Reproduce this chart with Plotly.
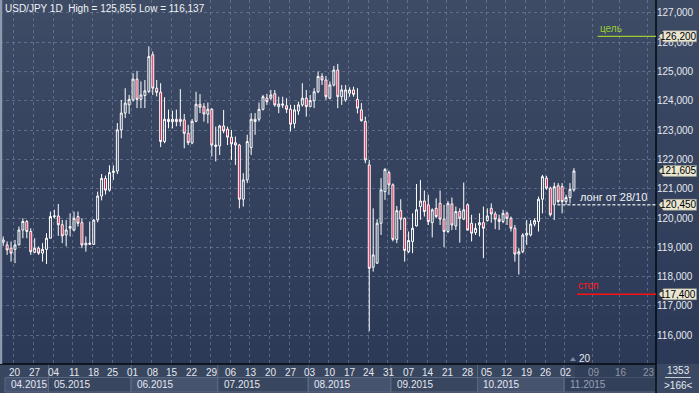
import numpy as np
import pandas as pd
import plotly.graph_objects as go

# ---------------- data ----------------
dates = pd.bdate_range("2015-04-15", "2015-11-04")

opens = [119.17, 119.08, 118.97, 118.93, 119.08, 119.59, 119.88, 119.54, 118.83, 118.97,
         118.80, 118.93, 119.31, 120.05, 120.07, 119.77, 119.42, 119.65, 119.59, 120.05,
         119.84, 119.08, 119.10, 119.10, 119.93, 120.75, 121.35, 120.95, 121.55, 121.60,
         123.01, 123.58, 123.86, 124.03, 124.74, 124.05, 124.18, 124.32, 125.57, 124.43,
         124.29, 122.61, 123.37, 123.29, 123.37, 123.37, 123.35, 122.89, 122.56, 123.30,
         123.88, 123.80, 123.54, 123.71, 122.44, 122.46, 123.14, 123.03, 122.76, 122.57,
         122.49, 120.64, 121.30, 122.40, 123.37, 123.37, 123.71, 124.09, 124.09, 124.24,
         123.80, 123.85, 123.83, 123.71, 123.23, 123.65, 123.86, 124.09, 123.80, 124.00,
         124.31, 124.83, 124.71, 124.09, 124.54, 125.05, 124.14, 124.03, 124.26, 124.37,
         124.05, 123.69, 123.29, 121.81, 118.32, 118.46, 119.82, 120.90, 121.55, 121.13,
         119.27, 120.25, 119.99, 118.85, 119.20, 119.73, 120.39, 120.58, 120.45, 119.84,
         120.33, 120.50, 119.96, 119.54, 120.48, 119.73, 120.22, 119.96, 120.45, 119.82,
         119.50, 119.76, 119.84, 119.91, 120.33, 120.14, 119.96, 119.88, 120.16, 119.99,
         119.65, 118.77, 118.85, 119.42, 119.42, 119.79, 119.88, 120.64, 121.36, 121.02,
         120.45, 121.10, 121.07, 120.56, 120.70, 120.96]
highs = [119.37, 119.20, 119.20, 119.25, 119.71, 119.99, 119.93, 119.65, 119.31, 119.03,
         119.14, 119.48, 120.22, 120.28, 120.48, 119.93, 119.93, 120.16, 120.22, 120.22,
         119.99, 119.37, 119.88, 119.96, 120.90, 121.50, 121.45, 121.80, 121.80, 123.24,
         124.03, 124.43, 124.20, 124.94, 125.02, 124.66, 124.71, 125.855, 125.68, 124.71,
         124.60, 124.12, 123.70, 123.66, 123.70, 124.40, 123.55, 123.18, 123.38, 124.31,
         124.23, 123.92, 123.94, 123.75, 123.12, 123.18, 123.69, 123.12, 123.01, 122.78,
         122.53, 121.53, 122.84, 123.58, 123.58, 123.94, 124.20, 124.24, 124.37, 124.37,
         124.14, 124.14, 124.09, 123.86, 123.86, 123.97, 124.60, 124.37, 124.20, 124.43,
         125.00, 124.94, 124.85, 124.66, 125.19, 125.26, 124.54, 124.54, 124.46, 124.48,
         124.43, 123.92, 123.46, 121.98, 120.33, 119.96, 121.36, 121.70, 121.62, 121.18,
         120.41, 120.64, 120.02, 119.54, 120.16, 121.16, 121.30, 120.94, 120.79, 120.33,
         120.67, 120.94, 120.45, 120.58, 120.70, 120.39, 120.33, 121.21, 120.50, 120.11,
         119.82, 120.16, 120.39, 120.33, 120.50, 120.22, 120.11, 120.28, 120.22, 120.05,
         119.76, 118.97, 119.48, 119.93, 119.93, 119.99, 120.73, 121.47, 121.44, 121.07,
         121.21, 121.19, 121.19, 120.79, 121.19, 121.70]
lows = [119.05, 118.74, 118.51, 118.46, 119.08, 119.31, 119.31, 118.74, 118.80, 118.74,
        118.51, 118.43, 119.31, 119.99, 119.39, 119.14, 119.03, 119.37, 119.54, 119.71,
        118.97, 118.85, 119.08, 119.08, 119.85, 120.60, 120.80, 120.90, 121.30, 121.50,
        122.72, 123.41, 123.55, 123.97, 123.75, 123.75, 123.75, 124.26, 124.20, 124.15,
        122.42, 122.55, 123.06, 123.06, 123.13, 123.13, 122.38, 122.49, 122.52, 123.27,
        123.58, 123.29, 123.23, 122.10, 121.93, 122.15, 122.89, 122.49, 121.98, 121.81,
        120.33, 120.39, 121.19, 122.15, 122.84, 123.29, 123.67, 123.86, 124.03, 123.80,
        123.58, 123.75, 123.58, 122.95, 123.06, 123.52, 123.80, 123.46, 123.78, 123.75,
        124.26, 124.54, 124.03, 124.05, 124.49, 123.75, 123.86, 123.97, 124.14, 124.14,
        123.57, 123.29, 121.87, 116.137, 118.17, 118.43, 119.42, 120.62, 120.79, 119.20,
        119.14, 119.59, 118.51, 118.80, 118.80, 119.71, 119.94, 120.05, 119.76, 119.34,
        119.99, 119.76, 119.00, 119.48, 119.59, 119.59, 119.16, 119.93, 119.57, 119.20,
        119.42, 119.37, 118.63, 119.88, 119.84, 119.62, 119.59, 119.82, 119.76, 119.54,
        118.51, 118.07, 118.80, 119.08, 119.37, 119.71, 119.54, 120.16, 120.96, 120.05,
        119.93, 120.50, 120.16, 120.45, 120.50, 120.90]
closes = [119.25, 118.91, 118.80, 119.08, 119.59, 119.88, 119.54, 118.85, 118.97, 118.80,
          118.93, 119.31, 120.05, 120.07, 119.77, 119.39, 119.59, 119.71, 119.99, 119.82,
          119.08, 119.14, 119.14, 119.93, 120.75, 121.35, 120.95, 121.55, 121.60, 123.01,
          123.58, 123.92, 124.05, 124.74, 124.05, 124.20, 124.34, 125.51, 124.43, 124.29,
          122.61, 123.37, 123.29, 123.37, 123.29, 123.29, 122.89, 122.57, 123.30, 123.88,
          123.78, 123.55, 123.71, 122.49, 122.49, 123.14, 122.97, 122.76, 122.53, 122.49,
          120.64, 121.30, 122.61, 123.37, 123.29, 123.71, 124.14, 123.97, 124.20, 123.86,
          123.89, 123.89, 123.71, 123.20, 123.69, 123.86, 124.09, 123.80, 124.01, 124.31,
          124.83, 124.71, 124.14, 124.54, 125.05, 124.14, 124.37, 124.37, 124.37, 124.22,
          123.75, 123.32, 121.98, 118.28, 118.74, 119.82, 120.96, 121.66, 121.13, 119.27,
          120.25, 119.96, 118.89, 119.23, 119.65, 120.28, 120.58, 120.22, 119.88, 120.28,
          120.05, 119.96, 119.54, 120.50, 119.76, 120.22, 119.99, 120.28, 119.59, 119.48,
          119.65, 119.84, 119.65, 120.07, 120.14, 119.96, 119.88, 120.16, 119.99, 119.65,
          118.77, 118.85, 119.42, 119.48, 119.79, 119.91, 120.64, 121.41, 121.02, 120.11,
          121.07, 120.56, 120.56, 120.70, 120.98, 121.605]

price_ticks = list(range(116, 128))
price_tick_labels = [f"{p},000" for p in price_ticks]

target_level, target_text = 126.2, "цель"
stop_level, stop_text = 117.4, "стоп"
entry_level, entry_text = 120.45, "лонг от 28/10"
last_close = closes[-1]

symbol_title = "USD/JPY 1D"
counter_top, counter_bottom = "1353", ">166<"
scroll_label = "20"
future_weeks = 3

# ---------------- geometry / style ----------------
W, H = 699, 393
PW, PH = 656, 364
X0, X1 = -0.81, 165.85
Y0, Y1 = 115.017, 127.44
n = len(dates)
xs = np.arange(n)


def px_x(i):
    return (i - X0) / (X1 - X0) * PW


def px_y(p):
    return (Y1 - p) / (Y1 - Y0) * PH


def fx(px):
    return px / PW


def fy(py):
    return 1 - py / PH


def fmt(v):
    return f"{v:.3f}".replace(".", ",")


TXT = "#e4e8ef"
FONT = "Liberation Sans, Arial, sans-serif"

fig = go.Figure()
fig.add_trace(go.Candlestick(
    x=xs, open=opens, high=highs, low=lows, close=closes,
    increasing=dict(line=dict(color="#ffffff", width=1), fillcolor="rgba(0,0,0,0)"),
    decreasing=dict(line=dict(color="#ffffff", width=1), fillcolor="#e0103c"),
    whiskerwidth=0, hoverinfo="skip", showlegend=False,
))

shapes = []
# background gradient (plot + price scale)
top = np.array([63, 76, 102])
bot = np.array([44, 57, 87])
N = 52
for k in range(N):
    t = (k + 0.5) / N
    c = top + (bot - top) * t
    shapes.append(dict(type="rect", xref="paper", yref="paper", layer="below",
                       x0=0, x1=W / PW, y0=fy(k * PH / N), y1=fy((k + 1) * PH / N + 0.6),
                       line=dict(width=0),
                       fillcolor=f"rgb({int(c[0])},{int(c[1])},{int(c[2])})"))
# bottom strip
shapes.append(dict(type="rect", xref="paper", yref="paper", layer="below",
                   x0=0, x1=1, y0=fy(364), y1=fy(393), line=dict(width=0), fillcolor="#39465f"))
# right bottom box
shapes.append(dict(type="rect", xref="paper", yref="paper", layer="below",
                   x0=1, x1=W / PW, y0=fy(364), y1=fy(393), line=dict(width=0), fillcolor="#3b4864"))
shapes.append(dict(type="line", xref="paper", yref="paper", x0=fx(665), x1=fx(691),
                   y0=fy(377.5), y1=fy(377.5), line=dict(color="#c8cdd8", width=1)))

# month boxes
months = dates.month
starts = [0] + [i for i in range(1, n) if months[i] != months[i - 1]]
edges = [s - 0.5 for s in starts]
edges[0] = 0.45
edges.append(X1)
annotations = []
for k, s in enumerate(starts):
    l, r = px_x(edges[k]), px_x(edges[k + 1])
    future = (k == len(starts) - 1)
    fill = "#46536f" if k % 2 == 0 else "#39465f"
    if future:
        fill = "#33405a"
    shapes.append(dict(type="rect", xref="paper", yref="paper", layer="below",
                       x0=fx(l), x1=fx(r), y0=fy(377.5), y1=fy(392),
                       line=dict(color="#5a6781", width=1), fillcolor=fill))
    if k > 0:
        shapes.append(dict(type="line", xref="paper", yref="paper", layer="below",
                           x0=fx(l), x1=fx(l), y0=fy(364), y1=fy(393),
                           line=dict(color="#5a6781", width=1)))
    annotations.append(dict(text=dates[s].strftime("%m.%Y"), xref="paper", yref="paper",
                            x=fx(l + 4), y=fy(384.5), xanchor="left", yanchor="middle",
                            showarrow=False,
                            font=dict(size=10, color="#9aa2b3" if future else TXT, family=FONT)))
# future darkened strip
shapes.append(dict(type="rect", xref="paper", yref="paper", layer="below",
                   x0=fx(575), x1=1, y0=fy(364), y1=fy(377.5), line=dict(width=0),
                   fillcolor="#323f59"))

# day labels (Mondays)
mondays = [i for i in range(n) if dates[i].weekday() == 0]
for i in mondays:
    annotations.append(dict(text=f"{dates[i].day:02d}", x=i, xref="x", yref="paper",
                            y=fy(372.5), yanchor="middle", xanchor="center", showarrow=False,
                            font=dict(size=10, color=TXT, family=FONT)))
fut_pos, fut_lab = [], []
for k in range(1, future_weeks + 1):
    d = dates[mondays[-1]] + pd.Timedelta(days=7 * k)
    fut_pos.append(mondays[-1] + 7 * k)
    fut_lab.append(f"{d.day:02d}")
for p, lab in zip(fut_pos, fut_lab):
    annotations.append(dict(text=lab, x=p, xref="x", yref="paper", y=fy(372.5),
                            yanchor="middle", xanchor="center", showarrow=False,
                            font=dict(size=10, color="#8e97a9", family=FONT)))

grid_x = [i - 0.3 for i in mondays] + [p - 0.3 for p in fut_pos]

# frame lines
shapes.append(dict(type="line", xref="paper", yref="paper", x0=1, x1=1, y0=fy(0), y1=fy(393),
                   line=dict(color="#05080f", width=1.5)))
shapes.append(dict(type="line", xref="paper", yref="paper", x0=0, x1=1, y0=0, y1=0,
                   line=dict(color="#05080f", width=1.5)))
shapes.append(dict(type="rect", xref="paper", yref="paper", x0=0, x1=fx(2.2), y0=fy(0), y1=fy(364),
                   line=dict(width=0), fillcolor="#8f99ae"))

# level lines
shapes.append(dict(type="line", xref="x", yref="y", x0=151, x1=X1, y0=target_level, y1=target_level,
                   line=dict(color="#9acd32", width=1.2)))
shapes.append(dict(type="line", xref="x", yref="y", x0=145.8, x1=X1, y0=stop_level, y1=stop_level,
                   line=dict(color="#ff1010", width=1.6)))
shapes.append(dict(type="line", xref="x", yref="y", x0=140.8, x1=X1, y0=entry_level, y1=entry_level,
                   line=dict(color="#c9ced8", width=1.6, dash="3px,2px")))

# price tags on the scale
for lvl in [target_level, last_close, entry_level, stop_level]:
    shapes.append(dict(type="path", xref="paper", yref="paper", xsizemode="pixel", ysizemode="pixel",
                       xanchor=1, yanchor=fy(px_y(lvl)),
                       path="M 3,0 L 7.5,-5.5 L 40.5,-5.5 L 40.5,5.5 L 7.5,5.5 Z",
                       fillcolor="#e9e6d2", line=dict(color="#9a9888", width=0.5)))
    annotations.append(dict(text=fmt(lvl), xref="paper", yref="y", x=1, y=lvl, xshift=22,
                            xanchor="center", yanchor="middle", showarrow=False,
                            font=dict(size=10, color="#000000", family=FONT)))

# level texts
annotations.append(dict(text=target_text, xref="x", yref="y", x=154.4, y=target_level, yshift=7.5,
                        xanchor="center", yanchor="middle", showarrow=False,
                        font=dict(size=10, color="#9acd32", family=FONT)))
annotations.append(dict(text=stop_text, xref="x", yref="y", x=148.5, y=stop_level, yshift=8.5,
                        xanchor="center", yanchor="middle", showarrow=False,
                        font=dict(size=10, color="#ff1a1a", family=FONT)))
annotations.append(dict(text=entry_text, xref="x", yref="y", x=155.1, y=entry_level, yshift=8,
                        xanchor="center", yanchor="middle", showarrow=False,
                        font=dict(size=11, color="#f2f4f8", family=FONT)))

# header
annotations.append(dict(text=f"{symbol_title}  High = {fmt(max(highs))} Low = {fmt(min(lows))}",
                        xref="paper", yref="paper", x=fx(3), y=fy(8), xanchor="left", yanchor="middle",
                        showarrow=False, font=dict(size=10, color="#f0f2f6", family=FONT)))
# counter box
annotations.append(dict(text=counter_top, xref="paper", yref="paper", x=fx(678), y=fy(370.5),
                        xanchor="center", yanchor="middle", showarrow=False,
                        font=dict(size=10, color=TXT, family=FONT)))
annotations.append(dict(text=counter_bottom, xref="paper", yref="paper", x=fx(678), y=fy(385),
                        xanchor="center", yanchor="middle", showarrow=False,
                        font=dict(size=10, color=TXT, family=FONT)))
# scroll marker
annotations.append(dict(text=scroll_label, xref="paper", yref="paper", x=fx(585), y=fy(358.5),
                        xanchor="center", yanchor="middle", showarrow=False,
                        font=dict(size=10, color=TXT, family=FONT)))
shapes.append(dict(type="path", xref="paper", yref="paper", xsizemode="pixel", ysizemode="pixel",
                   xanchor=fx(573), yanchor=fy(359), path="M -3,-2 L 3,-2 L 0,2 Z",
                   fillcolor="#7f889b", line=dict(width=0)))

fig.update_layout(
    width=W, height=H,
    margin=dict(l=0, r=W - PW, t=0, b=H - PH),
    paper_bgcolor="#35425e", plot_bgcolor="rgba(0,0,0,0)",
    showlegend=False, hovermode=False,
    font=dict(family=FONT),
    xaxis=dict(range=[X0, X1], tickvals=grid_x, showticklabels=False, ticks="",
               showgrid=True, gridcolor="rgba(125,140,170,0.55)", griddash="dot", gridwidth=1,
               zeroline=False, showline=False, rangeslider=dict(visible=False), fixedrange=True),
    yaxis=dict(range=[Y0, Y1], side="right", tickvals=price_ticks, ticktext=price_tick_labels,
               ticks="", showgrid=True, gridcolor="rgba(125,140,170,0.55)", griddash="dot",
               gridwidth=1, zeroline=False, showline=False,
               tickfont=dict(size=10, color=TXT, family=FONT), fixedrange=True),
    shapes=shapes, annotations=annotations,
)

fig.write_html("out.html")
